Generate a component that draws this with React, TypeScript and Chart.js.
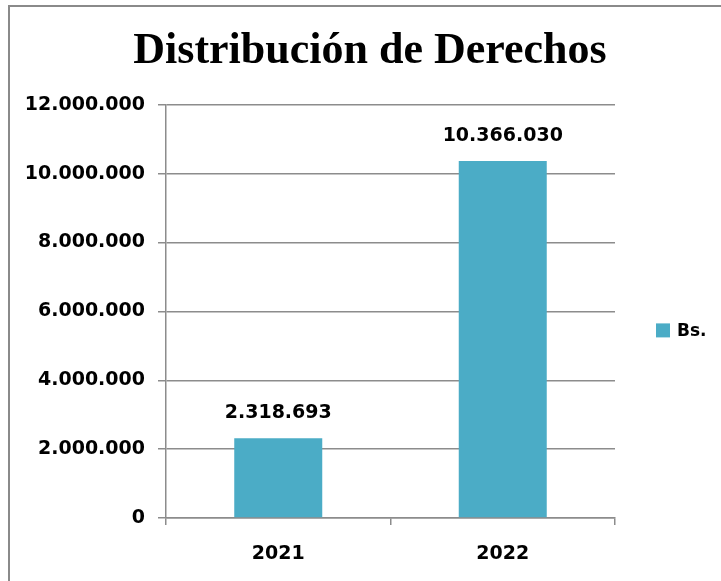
import React, { useEffect, useRef } from 'react';
import { Chart, registerables } from 'chart.js';

Chart.register(...registerables);

const titleText = 'Distribución de Derechos';
const categories = ['2021', '2022'];
const seriesName = 'Bs.';
const seriesValues = [2318693, 10366030];
const yTickValues = [0, 2000000, 4000000, 6000000, 8000000, 10000000, 12000000];

const fmt = (n: number) =>
  Math.round(n).toString().replace(/\B(?=(\d{3})+(?!\d))/g, '.');

export default function App() {
  const ref = useRef<HTMLCanvasElement>(null);

  useEffect(() => {
    if (!ref.current) return;
    const sans = '"DejaVu Sans", sans-serif';
    const barColor = '#4BACC6';
    const gridColor = '#8c8c8c';

    const extras = {
      id: 'extras',
      afterDatasetsDraw(chart: any) {
        const ctx = chart.ctx;
        const meta = chart.getDatasetMeta(0);
        ctx.save();
        ctx.font = `bold 19px ${sans}`;
        ctx.fillStyle = '#000';
        ctx.textAlign = 'center';
        ctx.textBaseline = 'middle';
        meta.data.forEach((el: any, i: number) => {
          ctx.fillText(fmt(seriesValues[i]), el.x, el.y - 25);
        });
        const { right, top, bottom } = chart.chartArea;
        const cy = (top + bottom) / 2 + 19;
        ctx.fillStyle = barColor;
        ctx.fillRect(right + 41, cy - 7, 14, 14);
        ctx.fillStyle = '#000';
        ctx.textAlign = 'left';
        ctx.font = `bold 17px ${sans}`;
        ctx.fillText(seriesName, right + 62, cy + 1);
        ctx.restore();
      },
    };

    const chart = new Chart(ref.current, {
      type: 'bar',
      data: {
        labels: categories,
        datasets: [
          {
            label: seriesName,
            data: seriesValues,
            backgroundColor: barColor,
            borderWidth: 0,
            barPercentage: 0.392,
            categoryPercentage: 1,
            yAxisID: 'y',
          },
        ],
      },
      options: {
        responsive: false,
        animation: false,
        layout: { padding: 0 },
        plugins: {
          legend: { display: false },
          tooltip: { enabled: false },
          title: {
            display: true,
            text: titleText,
            color: '#000',
            font: { family: '"Liberation Serif", serif', weight: 'bold', size: 44, lineHeight: 1.2 },
            padding: { top: 18, bottom: 27 },
          },
        },
        scales: {
          x: {
            afterFit: (s: any) => {
              s.height = 89;
            },
            grid: {
              display: true,
              drawOnChartArea: false,
              drawTicks: true,
              tickLength: 7,
              offset: true,
              color: gridColor,
              lineWidth: 1.5,
            },
            border: { display: true, color: gridColor, width: 1.5 },
            ticks: {
              color: '#000',
              padding: 18,
              font: { family: sans, weight: 'bold', size: 19 },
            },
          },
          y: {
            min: 0,
            max: 12000000,
            afterFit: (s: any) => {
              s.width = 156;
            },
            afterBuildTicks: (s: any) => {
              s.ticks = yTickValues.map((v) => ({ value: v }));
            },
            grid: {
              display: true,
              drawOnChartArea: true,
              drawTicks: true,
              tickLength: 8,
              color: gridColor,
              lineWidth: 1.5,
            },
            border: { display: true, color: gridColor, width: 1.5 },
            ticks: {
              color: '#000',
              padding: 13,
              font: { family: sans, weight: 'bold', size: 19 },
              callback: (v: any) => fmt(Number(v)),
            },
          },
          legendSpace: {
            type: 'linear',
            position: 'right',
            display: true,
            min: 0,
            max: 12000000,
            afterFit: (s: any) => {
              s.width = 115;
            },
            grid: { display: false, drawTicks: false },
            border: { display: false },
            ticks: { display: false },
          },
        },
      },
      plugins: [extras],
    } as any);

    return () => chart.destroy();
  }, []);

  return (
    <div
      style={{
        position: 'fixed',
        left: 8,
        top: 5,
        width: 740,
        height: 620,
        border: '2px solid #8a8a8a',
        boxSizing: 'border-box',
        background: '#fff',
      }}
    >
      <canvas ref={ref} width={720} height={600} style={{ display: 'block' }} />
    </div>
  );
}
